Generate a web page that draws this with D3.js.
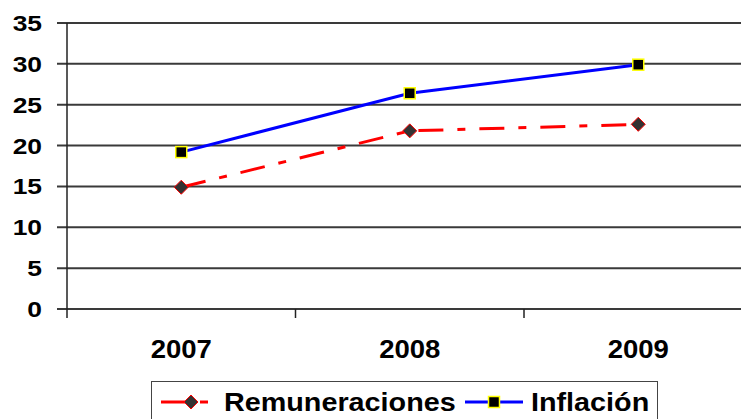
<!DOCTYPE html>
<html>
<head>
<meta charset="utf-8">
<script src="https://cdn.jsdelivr.net/npm/d3@7"></script>
<style>
  html, body { margin: 0; padding: 0; background: #fff; }
  svg { display: block; font-family: "Liberation Sans", Arial, sans-serif; font-weight: bold; }
</style>
</head>
<body>
<svg id="chart" width="741" height="419"></svg>
<script>
'use strict';

// data
var years = ["2007", "2008", "2009"];
var remuneraciones = [14.9, 21.8, 22.6];
var inflacion = [19.2, 26.4, 29.9];
var y_ticks = [0, 5, 10, 15, 20, 25, 30, 35];
var series_names = ["Remuneraciones", "Inflación"];

var svg = d3.select("#chart");

var x = d3.scaleBand()
          .domain(years)
          .range([67, 752.5]);

var y = d3.scaleLinear()
          .domain([0, 35])
          .range([309, 23]);

var cx = d => x(d) + x.bandwidth() / 2;

// gridlines
svg.append("g")
   .selectAll("line")
   .data(y_ticks)
   .join("line")
   .attr("x1", 57)
   .attr("x2", 741)
   .attr("y1", d => y(d))
   .attr("y2", d => y(d))
   .attr("stroke", "#3a3a3a")
   .attr("stroke-width", 2);

// y axis line
svg.append("line")
   .attr("x1", 67).attr("x2", 67)
   .attr("y1", y(35)).attr("y2", y(0) + 9)
   .attr("stroke", "#222")
   .attr("stroke-width", 1.5);

// category ticks on the x axis
svg.append("g")
   .selectAll("line")
   .data(years.slice(1))
   .join("line")
   .attr("x1", d => x(d)).attr("x2", d => x(d))
   .attr("y1", y(0)).attr("y2", y(0) + 9)
   .attr("stroke", "#222")
   .attr("stroke-width", 1.5);

// y labels (the picture's text is a bit wide, so stretch it)
svg.append("g")
   .selectAll("text")
   .data(y_ticks)
   .join("text")
   .attr("transform", d => "translate(42," + (y(d) + 8) + ") scale(1.2,1)")
   .attr("text-anchor", "end")
   .attr("font-size", 22)
   .text(d => d);

// x labels
svg.append("g")
   .selectAll("text")
   .data(years)
   .join("text")
   .attr("transform", d => "translate(" + cx(d) + ",358) scale(1.1,1)")
   .attr("text-anchor", "middle")
   .attr("font-size", 25)
   .text(d => d);

var line = d3.line()
             .x((d, i) => cx(years[i]))
             .y(d => y(d));

var red_dash = "25,14,8,14";

svg.append("path")
   .datum(remuneraciones)
   .attr("d", line)
   .attr("fill", "none")
   .attr("stroke", "#ff0000")
   .attr("stroke-width", 3)
   .attr("stroke-dasharray", red_dash);

svg.append("path")
   .datum(inflacion)
   .attr("d", line)
   .attr("fill", "none")
   .attr("stroke", "#0000ff")
   .attr("stroke-width", 3);

function diamond(g, px, py) {
    g.append("path")
     .attr("d", "M" + px + "," + (py - 7) + "L" + (px + 7) + "," + py +
                "L" + px + "," + (py + 7) + "L" + (px - 7) + "," + py + "Z")
     .attr("fill", "#333")
     .attr("stroke", "#ff0000")
     .attr("stroke-width", 1);
}

function square(g, px, py) {
    g.append("rect")
     .attr("x", px - 5.5).attr("y", py - 5.5)
     .attr("width", 11).attr("height", 11)
     .attr("fill", "#000")
     .attr("stroke", "#ffff00")
     .attr("stroke-width", 1.5);
}

var marks = svg.append("g");
remuneraciones.forEach((v, i) => diamond(marks, cx(years[i]), y(v)));
inflacion.forEach((v, i) => square(marks, cx(years[i]), y(v)));

// legend
var legend = svg.append("g");
legend.append("rect")
      .attr("x", 151.5).attr("y", 381.5)
      .attr("width", 506).attr("height", 50)
      .attr("fill", "#fff")
      .attr("stroke", "#444")
      .attr("stroke-width", 1);

var ly = 402;
legend.append("line")
      .attr("x1", 161).attr("x2", 208)
      .attr("y1", ly).attr("y2", ly)
      .attr("stroke", "#ff0000")
      .attr("stroke-width", 3)
      .attr("stroke-dasharray", "27,12,8,20");
diamond(legend, 191, ly);
legend.append("text")
      .attr("transform", "translate(224," + (ly + 9) + ") scale(1.15,1)")
      .attr("font-size", 25)
      .text(series_names[0]);

legend.append("line")
      .attr("x1", 465).attr("x2", 523)
      .attr("y1", ly).attr("y2", ly)
      .attr("stroke", "#0000ff")
      .attr("stroke-width", 3);
square(legend, 494, ly);
legend.append("text")
      .attr("transform", "translate(531," + (ly + 9) + ") scale(1.15,1)")
      .attr("font-size", 25)
      .text(series_names[1]);
</script>
</body>
</html>
